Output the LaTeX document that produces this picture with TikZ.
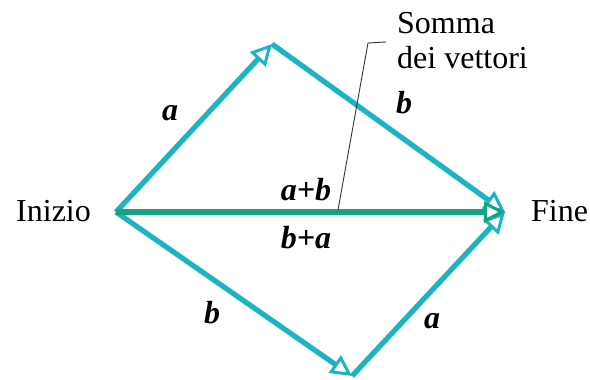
\documentclass[tikz,border=0pt]{standalone}
\usepackage{fontspec}
\setmainfont{Liberation Serif}
\usetikzlibrary{arrows.meta}
\definecolor{vcyan}{HTML}{1DB4C1}
\definecolor{vgreen}{HTML}{14A484}
\definecolor{leader}{HTML}{333333}
\tikzset{
  vec/.style={draw=vcyan, line width=5.2pt,
    -{Triangle[open, length=21pt, width=21pt, line width=3pt, fill=white]}},
  sumvec/.style={draw=vgreen, line width=5.2pt,
    -{Triangle[open, length=21pt, width=21pt, line width=3pt, fill=white]}},
  lbl/.style={font=\fontsize{32}{36}\selectfont\bfseries\itshape, anchor=base, inner sep=0pt},
  txt/.style={font=\fontsize{32}{35}\selectfont, anchor=base west, inner sep=0pt}
}
\begin{document}
\begin{tikzpicture}[x=1pt,y=-1pt]
\useasboundingbox (0,0) rectangle (590,380);
\coordinate (S) at (116,212);
\coordinate (T) at (272,44);
\coordinate (F) at (505,212);
\coordinate (B) at (352,376);
\coordinate (L1) at (338,210);
\coordinate (L2) at (368,43);
\coordinate (L3) at (386,42);
\draw[vec] (S) -- (T);
\draw[vec] (T) -- (F);
\draw[vec] (S) -- (B);
\draw[vec] (B) -- (F);
\draw[sumvec] (S) -- (F);
\draw[leader, line width=0.9pt] (L1) -- (L2) -- (L3);
\node[lbl] (la1) at (170,120) {a};
\node[lbl] (lb1) at (404,113) {b};
\node[lbl] (lab) at (306,200) {a+b};
\node[lbl] (lba) at (306,248) {b+a};
\node[lbl] (lb2) at (212,323) {b};
\node[lbl] (la2) at (432,328) {a};
\node[txt] (ini) at (16,221) {Inizio};
\node[txt] (fin) at (531,221) {Fine};
\node[txt] (som) at (397,33) {Somma};
\node[txt] (dei) at (397,68) {dei vettori};
\end{tikzpicture}
\end{document}
